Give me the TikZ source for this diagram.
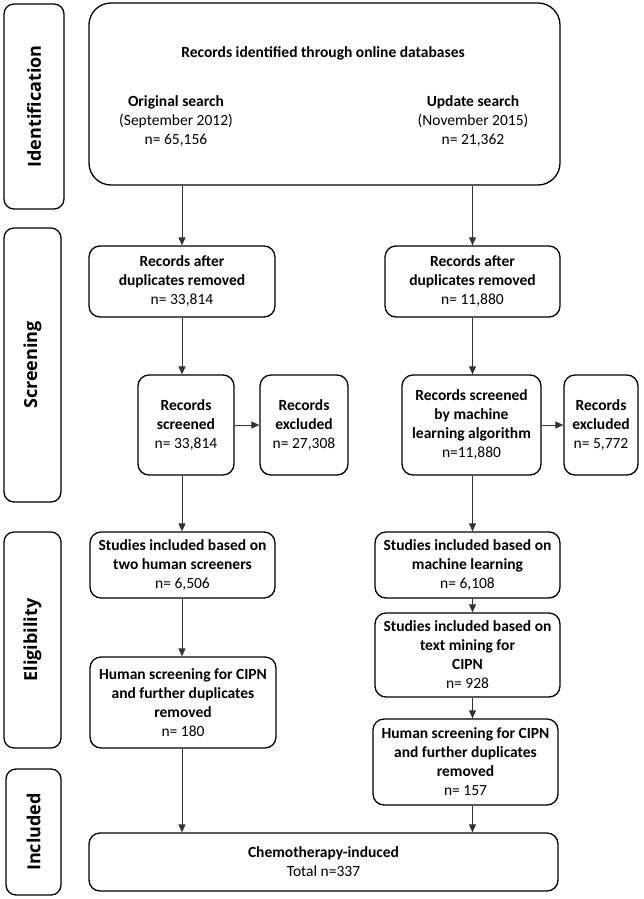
\documentclass[tikz,border=0pt]{standalone}
\usepackage{fontspec}
\setmainfont{Carlito}
\newfontfamily\labelfont{Open Sans}
\usetikzlibrary{arrows.meta}
\begin{document}
\begin{tikzpicture}[x=1pt,y=-1pt,
  box/.style={draw=black, line width=1.3pt, rounded corners=11pt, align=center, inner sep=0pt, font=\fontsize{15.5}{19}\selectfont},
  plain/.style={align=center, inner sep=0pt, font=\fontsize{15.5}{19}\selectfont},
  stage/.style={draw=black, line width=1.3pt, rounded corners=10pt, inner sep=0pt, rotate=90, font=\labelfont\bfseries\fontsize{18}{20}\selectfont},
  arr/.style={draw=black!80, line width=0.9pt, -{Triangle[length=8pt,width=7pt]}}]

\useasboundingbox (0,0) rectangle (643,899);

% stage labels
\node[stage, minimum width=205, minimum height=60] (sId) at (34,106.5) {Identification};
\node[stage, minimum width=274, minimum height=57] (sSc) at (32.5,365) {Screening};
\node[stage, minimum width=216, minimum height=57] (sEl) at (32.5,640) {Eligibility};
\node[stage, minimum width=126, minimum height=55] (sIn) at (33.5,832) {Included};

% top box
\node[box, rounded corners=22pt, minimum width=471, minimum height=182] (top) at (324.5,94) {};
\node[plain] (hdr) at (323,53) {\textbf{Records identified through online databases}};
\node[plain] (orig) at (176,121) {\textbf{Original search}\\(September 2012)\\n= 65,156};
\node[plain] (upd) at (473,121) {\textbf{Update search}\\(November 2015)\\n= 21,362};

% screening
\node[box, minimum width=186, minimum height=71] (dupL) at (182,281.5) {\textbf{Records after}\\\textbf{duplicates removed}\\n= 33,814};
\node[box, minimum width=175, minimum height=71] (dupR) at (472.5,281.5) {\textbf{Records after}\\\textbf{duplicates removed}\\n= 11,880};
\node[box, minimum width=96, minimum height=100] (scrL) at (186,425) {\textbf{Records}\\\textbf{screened}\\n= 33,814};
\node[box, minimum width=88, minimum height=100] (excL) at (304,425) {\textbf{Records}\\\textbf{excluded}\\n= 27,308};
\node[box, minimum width=139, minimum height=100] (scrR) at (471.5,425) {\textbf{Records screened}\\\textbf{by machine}\\\textbf{learning algorithm}\\n=11,880};
\node[box, minimum width=74, minimum height=100] (excR) at (601,425) {\textbf{Records}\\\textbf{excluded}\\n= 5,772};

% eligibility
\node[box, minimum width=185, minimum height=66] (studL) at (182.5,565) {\textbf{Studies included based on}\\\textbf{two human screeners}\\n= 6,506};
\node[box, minimum width=185, minimum height=66] (studR) at (467.5,565) {\textbf{Studies included based on}\\\textbf{machine learning}\\n= 6,108};
\node[box, minimum width=185, minimum height=84] (mineR) at (467.5,655) {\textbf{Studies included based on}\\\textbf{text mining for}\\\textbf{CIPN}\\n= 928};
\node[box, minimum width=186, minimum height=91] (humL) at (183,702.5) {\textbf{Human screening for CIPN}\\\textbf{and further duplicates}\\\textbf{removed}\\n= 180};
\node[box, minimum width=185, minimum height=86] (humR) at (465.5,762) {\textbf{Human screening for CIPN}\\\textbf{and further duplicates}\\\textbf{removed}\\n= 157};

% included
\node[box, minimum width=469, minimum height=58] (total) at (323.5,862) {\textbf{Chemotherapy-induced}\\Total n=337};

% connectors
\draw[arr] (top.south -| dupL.north) -- (dupL.north);
\draw[arr] (top.south -| dupR.north) -- (dupR.north);
\draw[arr] (dupL.south) -- (dupL.south |- scrL.north);
\draw[arr] (dupR.south) -- (dupR.south |- scrR.north);
\draw[arr] (scrL.east) -- (excL.west);
\draw[arr] (scrR.east) -- (excR.west);
\draw[arr] (dupL.south |- scrL.south) -- (dupL.south |- studL.north);
\draw[arr] (dupR.south |- scrR.south) -- (dupR.south |- studR.north);
\draw[arr] (dupL.south |- studL.south) -- (dupL.south |- humL.north);
\draw[arr] (dupR.south |- studR.south) -- (dupR.south |- mineR.north);
\draw[arr] (dupR.south |- mineR.south) -- (dupR.south |- humR.north);
\draw[arr] (dupL.south |- humL.south) -- (dupL.south |- total.north);
\draw[arr] (dupR.south |- humR.south) -- (dupR.south |- total.north);
\end{tikzpicture}
\end{document}
